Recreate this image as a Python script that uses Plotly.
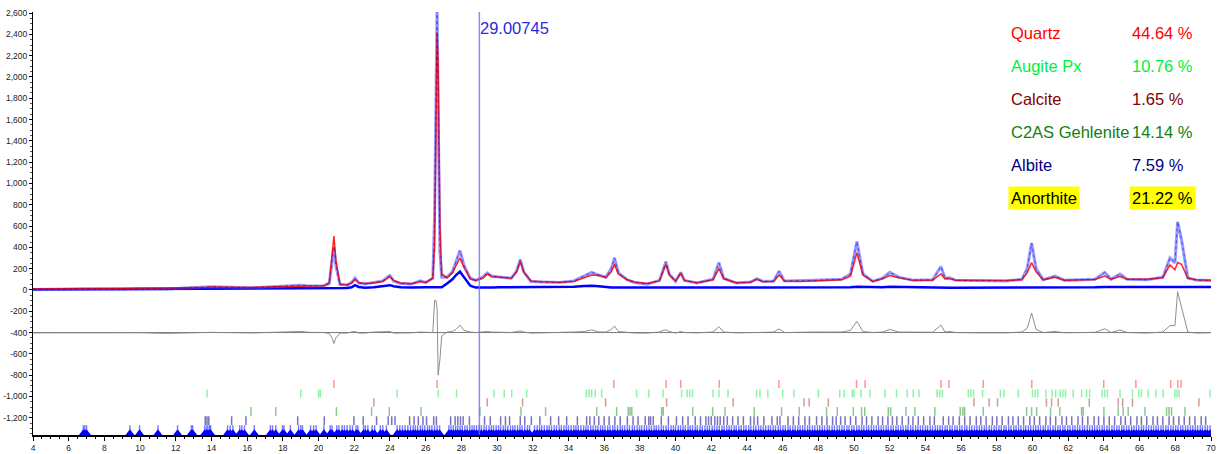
import plotly.graph_objects as go

# ---- profile data (2theta, counts) ----
two_theta = [4, 6.7, 7.0, 9.0, 10, 11.5, 13.7, 14.0, 16.2, 18, 19.0, 19.5, 20.3, 20.6, 20.75, 20.86, 20.97,
             21.2, 21.6, 21.85, 22.04, 22.25, 22.6, 23.1, 23.6, 23.85, 24.0, 24.2, 24.6, 25.2, 25.7, 26.0,
             26.4, 26.5, 26.58, 26.64, 26.7, 26.8, 26.9, 27.2, 27.5, 27.7, 27.92, 28.15, 28.5, 28.8, 29.2,
             29.45, 29.7, 30.2, 30.8, 31.1, 31.3, 31.5, 31.9, 32.5, 33.5, 34.3, 34.9, 35.3, 35.7, 36.1, 36.4,
             36.58, 36.8, 37.3, 37.7, 38.4, 39.1, 39.3, 39.46, 39.65, 40.0, 40.29, 40.5, 41.2, 42.1, 42.43,
             42.7, 43.4, 44.2, 44.56, 44.9, 45.5, 45.8, 46.1, 47.0, 47.7, 48.5, 49.3, 49.8, 50.16, 50.5,
             51.05, 51.6, 52.0, 52.5, 53.3, 54.4, 54.87, 55.1, 55.37, 55.7, 57.0, 58.5, 59.4, 59.7, 59.95,
             60.2, 60.6, 61.26, 61.8, 62.6, 63.5, 64.05, 64.4, 64.9, 65.3, 66.4, 67.3, 67.7, 67.98, 68.13,
             68.35, 68.7, 69.2, 70]

observed = [5, 8, 12, 6, 12, 10, 25, 30, 20, 35, 45, 38, 40, 60, 250, 404, 230,
            50, 45, 70, 110, 65, 55, 70, 85, 120, 135, 85, 60, 55, 85, 70,
            110, 700, 2200, 2650, 1700, 350, 120, 120, 170, 260, 370, 230, 110, 90, 120,
            160, 130, 120, 110, 180, 285, 170, 80, 75, 70, 85, 130, 165, 140, 120, 200,
            300, 160, 95, 70, 55, 90, 190, 265, 150, 80, 165, 90, 65, 100, 255,
            110, 65, 75, 105, 80, 85, 175, 85, 85, 90, 95, 100, 150, 455, 150,
            80, 110, 165, 120, 92, 95, 220, 110, 115, 90, 85, 85, 100, 200, 440,
            200, 95, 130, 90, 95, 100, 165, 100, 150, 100, 95, 120, 300, 255, 640,
            470, 115, 90, 88]

calculated = [8, 10, 10, 10, 14, 18, 25, 28, 24, 28, 35, 36, 40, 70, 300, 507, 280,
              55, 50, 65, 100, 70, 60, 65, 80, 110, 125, 90, 65, 58, 80, 70,
              110, 400, 1900, 2420, 2100, 600, 150, 115, 160, 230, 300, 210, 105, 90, 110,
              150, 125, 120, 110, 170, 270, 165, 85, 78, 72, 80, 120, 140, 135, 115, 170,
              240, 150, 95, 75, 60, 85, 170, 240, 140, 85, 155, 90, 68, 95, 200,
              105, 68, 72, 100, 78, 80, 140, 85, 80, 85, 90, 95, 130, 350, 140,
              80, 105, 135, 115, 90, 92, 150, 105, 105, 90, 88, 88, 95, 160, 257,
              170, 95, 120, 92, 95, 98, 130, 100, 125, 100, 100, 115, 235, 190, 257,
              240, 110, 95, 90]

background = [5, 6, 6, 7, 8, 9, 10, 10, 11, 12, 14, 14, 15, 15, 15, 16, 16,
              16, 18, 25, 45, 28, 20, 25, 35, 40, 45, 35, 25, 22, 28, 25,
              25, 25, 25, 25, 25, 25, 26, 60, 100, 140, 172, 120, 40, 22, 20,
              22, 22, 25, 25, 25, 25, 25, 25, 25, 25, 30, 38, 40, 35, 25, 22,
              22, 22, 20, 18, 18, 18, 18, 18, 18, 18, 18, 18, 18, 18, 18,
              18, 18, 19, 20, 20, 20, 20, 20, 20, 20, 22, 22, 25, 30, 28,
              25, 26, 30, 28, 22, 20, 20, 20, 20, 20, 20, 20, 22, 24, 25,
              24, 22, 22, 22, 22, 25, 28, 28, 28, 28, 28, 30, 30, 30, 30,
              30, 30, 28, 28]

diff_offset = -400
difference = [o - c + diff_offset for o, c in zip(observed, calculated)]

# ---- reflection positions per phase ----
quartz_pos = [20.86, 26.64, 36.54, 39.47, 40.29, 42.45, 45.79, 50.14, 50.62, 54.87, 55.32, 57.24,
              59.96, 63.99, 65.79, 67.74, 68.14, 68.32]

augite_pos = [13.75, 19.0, 20.0, 20.1, 24.4, 26.7, 27.73, 29.83, 30.4, 30.82, 31.66, 35.0, 35.15, 35.3,
              35.5, 35.86, 37.82, 38.5, 39.3, 40.34, 40.65, 40.8, 40.95, 42.1, 42.43, 42.94, 44.54,
              44.73, 45.17, 46.0, 46.63, 48.0, 49.2, 49.45, 49.9, 50.0, 50.39, 50.89, 51.73, 52.38,
              52.98, 53.32, 53.64, 54.65, 54.8, 54.95, 56.4, 56.55, 56.7, 57.2, 58.2, 58.4, 59.2, 60.0,
              60.15, 60.3, 60.75, 61.1, 61.3, 61.55, 61.7, 61.85, 62.28, 62.75, 63.03, 63.2, 63.9,
              64.05, 64.2, 64.9, 65.6, 65.95, 66.1, 66.48, 66.91, 67.32, 67.98, 68.1, 68.22, 69.94]

calcite_pos = [23.1, 29.45, 31.43, 36.08, 39.5, 43.23, 47.2, 47.49, 48.56, 56.72, 57.57, 58.04, 60.78,
               61.07, 61.44, 63.18, 64.8, 65.05, 65.6, 69.32]

gehlenite_pos = [16.21, 17.6, 21.0, 22.97, 23.96, 25.74, 29.04, 31.34, 32.72, 35.58, 36.7, 37.35, 37.45,
                 37.55, 39.22, 39.31, 40.96, 42.08, 42.77, 44.41, 45.94, 46.93, 48.46, 49.06, 49.96,
                 50.42, 50.6, 51.92, 52.05, 52.91, 53.41, 54.53, 55.95, 56.1, 56.2, 57.24, 59.67,
                 59.95, 60.23, 61.01, 61.53, 62.75, 62.84, 64.0, 64.8, 65.08, 65.36, 66.3, 67.51,
                 67.65, 67.79, 68.54]

albite_pos = [13.65, 13.75, 13.85, 15.13, 15.93, 18.83, 20.32, 21.98, 22.5, 23.25, 23.9, 24.1, 24.28,
              25.1, 25.35, 25.59, 25.85, 26.05, 26.45, 26.6, 27.4, 27.65, 27.8, 27.95, 28.1, 28.45,
              29.3, 29.62, 30.2, 30.47, 30.7, 31.3, 31.55, 31.92, 32.4, 33.0, 33.45, 33.9, 34.5, 35.02,
              35.2, 35.45, 35.7, 36.0, 36.28, 36.6, 36.9, 37.3, 37.62, 37.9, 38.3, 38.5, 38.6, 38.75,
              39.2, 39.6, 40.05, 40.4, 40.7, 41.1, 41.4, 41.7, 41.85, 42.0, 42.2, 42.35, 42.5, 42.7,
              42.9, 43.2, 43.5, 43.8, 44.2, 44.4, 44.6, 44.95, 45.4, 45.7, 45.85, 46.3, 46.6, 46.9,
              47.25, 47.5, 47.9, 48.2, 48.48, 48.8, 49.0, 49.25, 49.5, 49.8, 50.1, 50.45, 50.7, 51.0,
              51.35, 51.6, 51.9, 52.15, 52.4, 52.7, 53.05, 53.3, 53.6, 53.9, 54.25, 54.5, 55.0, 55.3,
              55.55, 55.9, 56.2, 56.5, 56.85, 57.1, 57.4, 57.75, 58.0, 58.3, 58.65, 58.9, 59.2, 59.5,
              59.85, 60.1, 60.4, 60.75, 61.0, 61.3, 61.65, 61.9, 62.2, 62.55, 62.8, 63.1, 63.45, 63.7,
              64.0, 64.3, 64.6, 64.95, 65.2, 65.5, 65.85, 66.1, 66.4, 66.75, 67.0, 67.3, 67.65, 67.9,
              68.2, 68.5, 68.8, 69.1, 69.45, 69.7]

anorthite_pos = [6.82, 6.9, 7.0, 9.43, 9.97, 11.0, 12.1, 12.87, 12.95, 13.62, 13.72, 13.8, 13.9, 13.95,
                 14.9, 15.05, 15.2, 15.58, 15.7, 15.85, 16.4, 17.3, 17.42, 17.6, 17.98, 18.06, 18.42,
                 18.88, 19.0, 19.1, 19.55, 19.72, 19.86, 20.3, 20.65, 20.75, 21.02, 21.14, 21.32, 21.45,
                 21.6, 21.76, 21.9, 22.1, 22.2, 22.52, 22.62, 22.76, 23.0, 23.14, 23.46, 23.6, 23.8,
                 24.4, 24.55, 24.7, 24.85, 25.0, 25.15,
                 25.3, 25.42, 25.55, 25.7, 25.82, 25.95, 26.1, 26.22, 26.35, 26.5, 26.64, 26.78, 27.3,
                 27.42, 27.55, 27.68, 27.8, 27.93, 28.05, 28.2, 28.33, 28.47, 28.6, 28.72, 28.85, 29.0,
                 29.12, 29.27, 29.4, 29.55, 29.68, 29.8, 29.95, 30.08, 30.2, 30.35, 30.47, 30.6, 30.75,
                 30.88, 31.0, 31.15, 31.28, 31.4, 31.55, 31.7, 31.82, 32.1, 32.25, 32.38, 32.5, 32.65,
                 32.8, 32.92, 33.05, 33.2, 33.33, 33.48, 33.6, 33.75, 33.88, 34.0, 34.15, 34.3, 34.42,
                 34.55, 34.7, 34.85, 34.98, 35.1, 35.25, 35.38, 35.52, 35.65, 35.8, 35.92, 36.05, 36.2,
                 36.33, 36.48, 36.6, 36.75, 36.9, 37.02, 37.15, 37.3, 37.42, 37.58, 37.7, 37.85, 37.98,
                 38.1, 38.25, 38.38, 38.52, 38.65, 38.8, 38.92, 39.05, 39.2, 39.32, 39.47, 39.6, 39.75,
                 39.88, 40.0, 40.15, 40.28, 40.42, 40.55, 40.7, 40.82, 40.95, 41.1, 41.22, 41.37, 41.5,
                 41.65, 41.78, 41.9, 42.05, 42.18, 42.32, 42.45, 42.6, 42.72, 42.87, 43.0, 43.13, 43.28,
                 43.4, 43.55, 43.68, 43.82, 43.95, 44.1, 44.22, 44.37, 44.5, 44.65, 44.78, 44.92, 45.05,
                 45.2, 45.32, 45.47, 45.6, 45.75, 45.88, 46.02, 46.15, 46.3, 46.42, 46.57, 46.7, 46.85,
                 46.98, 47.12, 47.25, 47.4, 47.52, 47.67, 47.8, 47.95, 48.08, 48.22, 48.35, 48.5, 48.62,
                 48.77, 48.9, 49.05, 49.18, 49.32, 49.45, 49.6, 49.72, 49.87, 50.0, 50.15, 50.28, 50.42,
                 50.55, 50.7, 50.82, 50.97, 51.1, 51.25, 51.38, 51.52, 51.65, 51.8, 51.92, 52.07, 52.2,
                 52.35, 52.48, 52.62, 52.75, 52.9, 53.02, 53.17, 53.3, 53.45, 53.58, 53.72, 53.85, 54.0,
                 54.12, 54.27, 54.4, 54.55, 54.68, 54.82, 54.95, 55.1, 55.22, 55.37, 55.5, 55.65, 55.78,
                 55.92, 56.05, 56.2, 56.32, 56.47, 56.6, 56.75, 56.88, 57.02, 57.15, 57.3, 57.42, 57.57,
                 57.7, 57.85, 57.98, 58.12, 58.25, 58.4, 58.52, 58.67, 58.8, 58.95, 59.08, 59.22, 59.35,
                 59.5, 59.62, 59.77, 59.9, 60.05, 60.18, 60.32, 60.45, 60.6, 60.72, 60.87, 61.0, 61.15,
                 61.28, 61.42, 61.55, 61.7, 61.82, 61.97, 62.1, 62.25, 62.38, 62.52, 62.65, 62.8, 62.92,
                 63.07, 63.2, 63.35, 63.48, 63.62, 63.75, 63.9, 64.02, 64.17, 64.3, 64.45, 64.58, 64.72,
                 64.85, 65.0, 65.12, 65.27, 65.4, 65.55, 65.68, 65.82, 65.95, 66.1, 66.22, 66.37, 66.5,
                 66.65, 66.78, 66.92, 67.05, 67.2, 67.32, 67.47, 67.6, 67.75, 67.88, 68.02, 68.15, 68.3,
                 68.42, 68.57, 68.7, 68.85, 68.98, 69.12, 69.25, 69.4, 69.52, 69.67, 69.8, 69.95]

# ---- phase table ----
phase_names = ["Quartz", "Augite Px", "Calcite", "C2AS Gehlenite", "Albite", "Anorthite"]
phase_wt = ["44.64 %", "10.76 %", "1.65 %", "14.14 %", "7.59 %", "21.22 %"]
phase_text_colors = ["#FF0000", "#00F040", "#800000", "#108010", "#000080", "#000000"]
phase_tick_colors = ["rgba(255,60,60,0.55)", "rgba(0,230,60,0.45)", "rgba(150,30,30,0.45)",
                     "rgba(0,128,0,0.45)", "rgba(0,0,140,0.55)", "rgba(0,0,255,0.5)"]
phase_rows = [(-920, -845), (-1010, -935), (-1095, -1018), (-1182, -1100), (-1268, -1186), (-1360, -1270)]
phase_positions = [quartz_pos, augite_pos, calcite_pos, gehlenite_pos, albite_pos, anorthite_pos]

cursor_x = 29.00745
y_tick_vals = [2600, 2400, 2200, 2000, 1800, 1600, 1400, 1200, 1000, 800, 600, 400, 200, 0,
               -200, -400, -600, -800, -1000, -1200]
y_tick_text = ["2,600", "2,400", "2,200", "2,000", "1,800", "1,600", "1,400", "1,200", "1,000", "800",
               "600", "400", "200", "0", "-200", "-400", "-600", "-800", "-1,000", "-1,200"]
x_tick_vals = [4, 6, 8, 10, 12, 14, 16, 18, 20, 22, 24, 26, 28, 30, 32, 34, 36, 38, 40, 42, 44, 46, 48,
               50, 52, 54, 56, 58, 60, 62, 64, 66, 68, 70]

txt_font = "Liberation Sans, Arial, sans-serif"

fig = go.Figure()

# difference zero line
fig.add_trace(go.Scatter(x=[4, 70], y=[diff_offset, diff_offset], mode="lines",
                         line=dict(color="#7a7a7a", width=1), hoverinfo="skip"))
fig.add_trace(go.Scatter(x=two_theta, y=difference, mode="lines",
                         line=dict(color="rgba(130,130,130,0.9)", width=1)))

# reflection markers
for pos, (y0, y1), col in zip(phase_positions, phase_rows, phase_tick_colors):
    xs, ys = [], []
    for p in pos:
        xs += [p, p, None]
        ys += [y0, y1, None]
    fig.add_trace(go.Scatter(x=xs, y=ys, mode="lines", line=dict(color=col, width=1.5),
                             hoverinfo="skip"))
fig.add_trace(go.Scatter(x=anorthite_pos, y=[-1346] * len(anorthite_pos), mode="markers",
                         marker=dict(symbol="triangle-up", size=8, color="#0000FF"),
                         hoverinfo="skip"))

# background, observed, calculated
fig.add_trace(go.Scatter(x=two_theta, y=background, mode="lines",
                         line=dict(color="#0000FF", width=2.5)))
fig.add_trace(go.Scatter(x=two_theta, y=observed, mode="lines",
                         line=dict(color="rgba(70,70,255,0.55)", width=3)))
fig.add_trace(go.Scatter(x=two_theta, y=calculated, mode="lines",
                         line=dict(color="rgba(255,0,0,0.85)", width=1.5)))
fig.add_trace(go.Scatter(x=two_theta, y=observed, mode="lines",
                         line=dict(color="rgba(20,20,230,0.6)", width=1, dash="dot")))

# cursor
fig.add_shape(type="line", x0=cursor_x, x1=cursor_x, y0=-1360, y1=2610, xref="x", yref="y",
              line=dict(color="rgba(110,110,255,0.8)", width=1.5))
fig.add_annotation(x=cursor_x, y=2460, xref="x", yref="y", text="29.00745", showarrow=False,
                   xanchor="left", yanchor="middle", xshift=-1,
                   font=dict(family=txt_font, size=16.5, color="#2a2ae0"))

# phase fractions
row_py = [33, 66, 99, 132, 165, 197.5]
for i, (nm, wt, col) in enumerate(zip(phase_names, phase_wt, phase_text_colors)):
    yp = 1 - (row_py[i] - 12) / 423
    bg = "#FFFF00" if nm == "Anorthite" else None
    fig.add_annotation(x=0.8277, y=yp, xref="paper", yref="paper", text=nm, showarrow=False,
                       xanchor="left", yanchor="middle", bgcolor=bg, borderpad=2,
                       font=dict(family=txt_font, size=16.5, color=col))
    fig.add_annotation(x=0.9304, y=yp, xref="paper", yref="paper", text=wt, showarrow=False,
                       xanchor="left", yanchor="middle", bgcolor=bg, borderpad=2,
                       font=dict(family=txt_font, size=16.5, color=col))

fig.update_layout(
    width=1220, height=454,
    margin=dict(l=33, r=9, t=12, b=19),
    plot_bgcolor="white", paper_bgcolor="white",
    showlegend=False,
    xaxis=dict(range=[4, 70], tickvals=x_tick_vals, ticks="outside", ticklen=4, tickcolor="black",
               showline=True, linecolor="black", linewidth=2, showgrid=False, zeroline=False,
               automargin=False,
               tickfont=dict(family=txt_font, size=8.5, color="#222"),
               minor=dict(dtick=0.5, ticks="outside", ticklen=2, tickcolor="black")),
    yaxis=dict(range=[-1362, 2610], tickvals=y_tick_vals, ticktext=y_tick_text, ticks="outside",
               ticklen=3, tickcolor="black", showline=True, linecolor="black", linewidth=1,
               showgrid=False, zeroline=False, automargin=False,
               tickfont=dict(family=txt_font, size=8.5, color="#222"),
               minor=dict(dtick=50, ticks="outside", ticklen=2, tickcolor="#555")),
)

# the page body has a default margin; drop it so the figure sits at the window's corner
fig.write_html("out.html", config={"displayModeBar": False},
               post_script="document.body.style.margin='0';")
